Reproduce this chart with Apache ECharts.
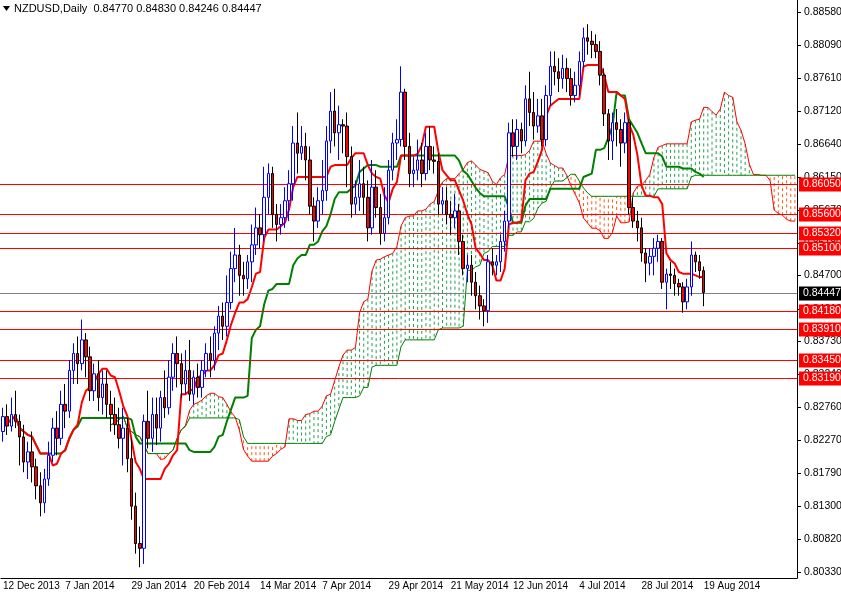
<!DOCTYPE html>
<html><head><meta charset="utf-8">
<script src="https://cdn.jsdelivr.net/npm/echarts@6/dist/echarts.min.js"></script>
<style>html,body{margin:0;padding:0;background:#fff}#c{width:841px;height:593px}</style>
</head><body><div id="c"></div>
<script>
// candles: [open, close, low, high]
const candles = [
[.8240,.8262,.8225,.8275],[.8262,.8248,.8235,.8280],[.8248,.8265,.8240,.8290],[.8265,.8255,.8245,.8300],
[.8255,.8232,.8190,.8265],[.8232,.8195,.8180,.8250],[.8195,.8210,.8170,.8225],[.8210,.8188,.8165,.8240],
[.8188,.8160,.8140,.8200],[.8160,.8135,.8115,.8180],[.8135,.8170,.8120,.8185],[.8170,.8205,.8160,.8225],
[.8205,.8245,.8195,.8260],[.8245,.8230,.8205,.8270],[.8230,.8280,.8220,.8300],[.8280,.8270,.8245,.8310],
[.8270,.8330,.8260,.8345],[.8330,.8355,.8310,.8370],[.8355,.8340,.8310,.8380],[.8340,.8375,.8330,.8405],
[.8375,.8350,.8320,.8385],[.8350,.8300,.8285,.8365],[.8300,.8325,.8285,.8340],[.8325,.8290,.8270,.8345],
[.8290,.8310,.8265,.8330],[.8310,.8280,.8260,.8330],[.8280,.8265,.8240,.8300],[.8265,.8250,.8235,.8290],
[.8250,.8230,.8215,.8275],[.8230,.8245,.8190,.8275],[.8245,.8200,.8180,.8260],[.8200,.8130,.8110,.8230],
[.8130,.8075,.8060,.8150],[.8075,.8068,.8040,.8100],[.8068,.8255,.8045,.8265],[.8255,.8230,.8215,.8300],
[.8230,.8265,.8210,.8290],[.8265,.8245,.8220,.8290],[.8245,.8290,.8225,.8300],[.8290,.8275,.8260,.8330],
[.8275,.8320,.8265,.8345],[.8320,.8355,.8300,.8370],[.8355,.8340,.8305,.8380],[.8340,.8310,.8290,.8355],
[.8310,.8330,.8295,.8360],[.8330,.8295,.8285,.8375],[.8295,.8320,.8280,.8330],[.8320,.8305,.8290,.8340],
[.8305,.8330,.8290,.8345],[.8330,.8355,.8320,.8370],[.8355,.8345,.8320,.8380],[.8345,.8385,.8330,.8395],
[.8385,.8410,.8360,.8425],[.8410,.8395,.8375,.8430],[.8395,.8430,.8380,.8470],[.8430,.8480,.8420,.8505],
[.8480,.8500,.8460,.8540],[.8500,.8470,.8440,.8515],[.8470,.8465,.8440,.8490],[.8465,.8490,.8450,.8500],
[.8490,.8515,.8460,.8545],[.8515,.8540,.8500,.8570],[.8540,.8530,.8510,.8560],[.8530,.8585,.8520,.8630],
[.8585,.8620,.8560,.8635],[.8620,.8560,.8540,.8630],[.8560,.8545,.8520,.8575],[.8545,.8555,.8530,.8575],
[.8555,.8580,.8540,.8600],[.8580,.8605,.8550,.8625],[.8605,.8665,.8580,.8690],[.8665,.8650,.8620,.8710],
[.8650,.8660,.8640,.8690],[.8660,.8640,.8610,.8680],[.8640,.8572,.8560,.8660],[.8572,.8550,.8520,.8585],
[.8550,.8580,.8540,.8600],[.8580,.8595,.8560,.8640],[.8595,.8668,.8580,.8690],[.8668,.8712,.8650,.8740],
[.8712,.8680,.8660,.8745],[.8680,.8692,.8640,.8720],[.8692,.8690,.8650,.8700],[.8690,.8645,.8600,.8710],
[.8645,.8575,.8555,.8660],[.8575,.8585,.8560,.8610],[.8585,.8605,.8565,.8640],[.8605,.8585,.8560,.8630],
[.8585,.8540,.8520,.8610],[.8540,.8600,.8530,.8640],[.8600,.8570,.8555,.8625],[.8570,.8532,.8515,.8590],
[.8532,.8555,.8520,.8600],[.8555,.8625,.8545,.8640],[.8625,.8665,.8610,.8680],[.8665,.8670,.8640,.8700],
[.8670,.8740,.8660,.8778],[.8740,.8660,.8640,.8745],[.8660,.8620,.8600,.8680],[.8620,.8625,.8600,.8645],
[.8625,.8640,.8610,.8670],[.8640,.8620,.8600,.8665],[.8620,.8660,.8610,.8680],[.8660,.8640,.8625,.8690],
[.8640,.8638,.8620,.8660],[.8638,.8575,.8560,.8650],[.8575,.8580,.8560,.8600],[.8580,.8560,.8545,.8600],
[.8560,.8555,.8530,.8580],[.8555,.8565,.8540,.8590],[.8565,.8520,.8500,.8575],[.8520,.8480,.8470,.8530],
[.8480,.8485,.8460,.8500],[.8485,.8460,.8440,.8500],[.8460,.8440,.8420,.8475],[.8440,.8425,.8405,.8455],
[.8425,.8418,.8395,.8435],[.8418,.8490,.8400,.8500],[.8490,.8485,.8470,.8510],[.8485,.8490,.8470,.8500],
[.8490,.8520,.8475,.8530],[.8520,.8550,.8505,.8565],[.8550,.8680,.8540,.8695],[.8680,.8660,.8645,.8700],
[.8660,.8685,.8640,.8700],[.8685,.8668,.8650,.8695],[.8668,.8730,.8660,.8750],[.8730,.8710,.8690,.8770],
[.8710,.8690,.8670,.8740],[.8690,.8705,.8680,.8730],[.8705,.8670,.8660,.8730],[.8670,.8735,.8660,.8750],
[.8735,.8778,.8720,.8800],[.8778,.8770,.8750,.8800],[.8770,.8760,.8740,.8790],[.8760,.8775,.8745,.8795],
[.8775,.8760,.8740,.8790],[.8760,.8735,.8720,.8775],[.8735,.8750,.8725,.8770],[.8750,.8785,.8735,.8800],
[.8785,.8820,.8775,.8835],[.8820,.8815,.8795,.8840],[.8815,.8810,.8790,.8830],[.8810,.8800,.8790,.8825],
[.8800,.8765,.8750,.8815],[.8765,.8708,.8690,.8775],[.8708,.8668,.8640,.8715],[.8668,.8695,.8640,.8710],
[.8695,.8685,.8660,.8715],[.8685,.8665,.8630,.8700],[.8665,.8695,.8650,.8710],[.8695,.8570,.8560,.8700],
[.8570,.8550,.8540,.8585],[.8550,.8540,.8520,.8565],[.8540,.8503,.8490,.8555],[.8503,.8488,.8460,.8510],
[.8488,.8498,.8470,.8510],[.8498,.8510,.8470,.8525],[.8510,.8520,.8490,.8530],[.8520,.8460,.8450,.8525],
[.8460,.8472,.8420,.8480],[.8472,.8470,.8450,.8490],[.8470,.8458,.8440,.8480],[.8458,.8453,.8440,.8465],
[.8453,.8431,.8415,.8460],[.8431,.8453,.8420,.8465],[.8453,.8500,.8440,.8520],[.8500,.8490,.8475,.8505],
[.8490,.8477,.8465,.8500],[.8477,.84447,.84246,.84830]
];
const dateLabels = ['12 Dec 2013','7 Jan 2014','29 Jan 2014','20 Feb 2014','14 Mar 2014','7 Apr 2014','29 Apr 2014','21 May 2014','12 Jun 2014','4 Jul 2014','28 Jul 2014','19 Aug 2014'];
const dateLabelIdx = [0,15,31,46,62,77,93,108,123,139,154,169];
const priceTicks = [0.88580,0.88090,0.87610,0.87120,0.86640,0.86150,0.85670,0.85180,0.84700,0.84210,0.83730,0.83240,0.82760,0.82270,0.81790,0.81300,0.80820,0.80330];
const redLevels = [0.86050,0.85600,0.85320,0.85100,0.84180,0.83910,0.83450,0.83190];
const lastPrice = 0.84447;
const nCats = 192;

const cats = Array.from({length:nCats},(_,i)=>String(i));
const n = candles.length;
function mid(i,p){let lo=Infinity,hi=-Infinity;for(let j=Math.max(0,i-p+1);j<=i;j++){lo=Math.min(lo,candles[j][2]);hi=Math.max(hi,candles[j][3]);}return (lo+hi)/2;}
const tenkan=[],kijun=[],spanA=new Array(nCats).fill(null),spanB=new Array(nCats).fill(null);
for(let i=0;i<n;i++){tenkan.push(+mid(i,9).toFixed(5));kijun.push(+mid(i,26).toFixed(5));
 if(i+26<nCats){spanA[i+26]=+((mid(i,9)+mid(i,26))/2).toFixed(5);spanB[i+26]=+mid(i,52).toFixed(5);}}
const cloud=[];for(let i=0;i<nCats;i++){if(spanA[i]!=null)cloud.push([i,spanA[i],spanB[i]]);}

const chart=echarts.init(document.getElementById('c'));
chart.setOption({
 animation:false,backgroundColor:'#fff',
 grid:{left:0,top:0,right:44,bottom:15},
 xAxis:{type:'category',data:cats,boundaryGap:true,
  axisLine:{lineStyle:{color:'#000'}},
  axisTick:{interval:(i)=>dateLabelIdx.includes(i),lineStyle:{color:'#000'},length:4},
  axisLabel:{interval:(i)=>dateLabelIdx.includes(i),formatter:(v,i)=>{const k=dateLabelIdx.indexOf(i);return k>=0?dateLabels[k]:'';},
   align:'left',color:'#000',fontSize:10,fontFamily:'Liberation Sans',margin:3},
  splitLine:{show:false}},
 yAxis:{type:'value',position:'right',min:0.80242,max:0.88757,
  axisLine:{show:true,lineStyle:{color:'#000'}},axisTick:{show:false},axisLabel:{show:false},splitLine:{show:false}},
 series:[
  {type:'custom',name:'cloud',data:cloud,z:1,silent:true,
   renderItem:(params,api)=>{const i=api.value(0),a=api.value(1),b=api.value(2);
    const p1=api.coord([i,a]),p2=api.coord([i,b]);
    return {type:'line',shape:{x1:p1[0],y1:p1[1],x2:p2[0],y2:p2[1]},
     style:{stroke:a>=b?'#22a050':'#ff5a10',lineWidth:1,lineDash:[3,3]}};}},
  {type:'line',name:'SpanA',data:spanA,symbol:'none',z:2,lineStyle:{color:'#ff0000',width:1}},
  {type:'line',name:'SpanB',data:spanB,symbol:'none',z:2,lineStyle:{color:'#008000',width:1}},
  {type:'line',name:'Kijun',data:kijun,symbol:'none',z:3,lineStyle:{color:'#008000',width:2}},
  {type:'line',name:'Tenkan',data:tenkan,symbol:'none',z:3,lineStyle:{color:'#ff0000',width:2}},
  {type:'candlestick',name:'NZDUSD',data:candles,barWidth:3,z:5,
   itemStyle:{color:'#ffffff',color0:'#ff0000',borderColor:'#0000ff',borderColor0:'#000000',borderWidth:1}}
 ]
});
const g=[
 {type:'polygon',shape:{points:[[3,6],[10,6],[6.5,11]]},style:{fill:'#000'}},
 {type:'text',x:14,y:3,style:{text:'NZDUSD,Daily  0.84770 0.84830 0.84246 0.84447',fill:'#000',font:'11px Liberation Sans'}}
];
const X0=797;
const F='10.5px Liberation Sans';
priceTicks.forEach(v=>{const y=Math.round(chart.convertToPixel({yAxisIndex:0},v))+0.5;
 g.push({type:'line',shape:{x1:X0,y1:y,x2:X0+4,y2:y},style:{stroke:'#000',lineWidth:1},z:10});
 g.push({type:'text',x:X0+7,y:y,style:{text:v.toFixed(5),fill:'#000',font:F,verticalAlign:'middle'},z:10});});
function level(v,lineCol,boxCol){const y=Math.round(chart.convertToPixel({yAxisIndex:0},v))+0.5;
 g.push({type:'line',shape:{x1:0,y1:y,x2:X0,y2:y},style:{stroke:lineCol,lineWidth:1},z:4});
 g.push({type:'rect',shape:{x:X0+2,y:y-7,width:42,height:14},style:{fill:boxCol},z:11});
 g.push({type:'text',x:X0+6,y:y,style:{text:v.toFixed(5),fill:'#fff',font:F,verticalAlign:'middle'},z:12});}
redLevels.forEach(v=>level(v,'#ff0000','#ff0000'));
level(lastPrice,'#808080','#000000');
chart.setOption({graphic:g});
</script></body></html>
